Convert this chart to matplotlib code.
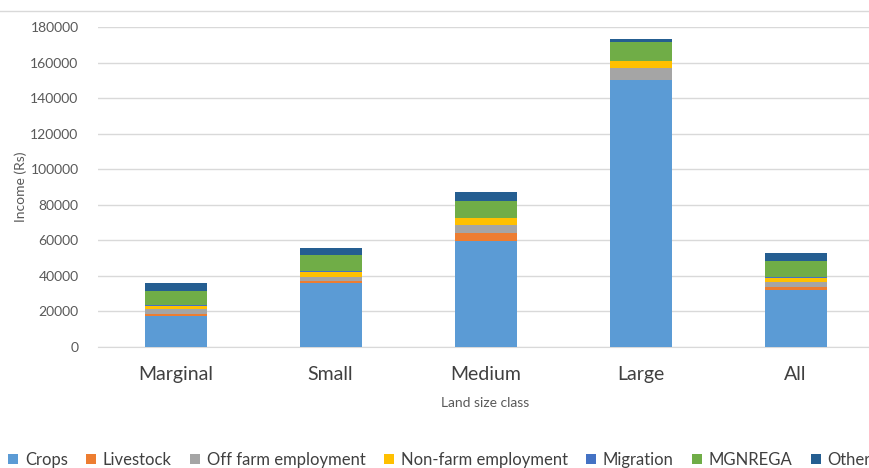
import numpy as np
import matplotlib.pyplot as plt
from matplotlib.patches import Patch
from matplotlib.lines import Line2D

# Data (income in Rs)
categories = ["Marginal", "Small", "Medium", "Large", "All"]
crops = [17400, 35800, 59400, 150000, 32200]
livestock = [1300, 1300, 4500, 100, 1400]
off_farm = [2500, 2400, 4900, 6600, 3000]
non_farm = [1900, 2800, 3600, 4100, 2400]
migration = [500, 200, 100, 100, 200]
mgnrega = [7900, 9400, 9700, 10700, 9400]
other = [4700, 3800, 5100, 1500, 4300]

series = [
    ("Crops", crops, "#5B9BD5"),
    ("Livestock", livestock, "#ED7D31"),
    ("Off farm employment", off_farm, "#A5A5A5"),
    ("Non-farm employment", non_farm, "#FFC000"),
    ("Migration", migration, "#4472C4"),
    ("MGNREGA", mgnrega, "#70AD47"),
    ("Other", other, "#255E91"),
]

plt.rcParams["font.family"] = ["Lato", "DejaVu Sans"]

fig = plt.figure(figsize=(8.69, 4.68), dpi=100)
ax = fig.add_axes([98 / 869, 1 - 347 / 468, 775 / 869, 320 / 468])

x = np.arange(len(categories))
bottom = np.zeros(len(categories))
for name, vals, color in series:
    ax.bar(x, vals, 0.4, bottom=bottom, color=color, label=name, zorder=3)
    bottom += np.array(vals)

ax.set_ylim(0, 180000)
ax.set_xlim(-0.5, 4.5)
ax.set_yticks(np.arange(0, 180001, 20000))
ax.grid(axis="y", color="#D9D9D9", linewidth=1, zorder=0)
for s in ax.spines.values():
    s.set_visible(False)
ax.spines["bottom"].set_visible(True)
ax.spines["bottom"].set_color("#D9D9D9")
ax.tick_params(axis="y", length=0, pad=14, labelsize=10, labelcolor="#595959")
ax.tick_params(axis="x", length=0, pad=14, labelsize=14, labelcolor="#404040")
ax.set_xticks(x)
ax.set_xticklabels(categories)
ax.set_xlabel("Land size class", fontsize=10, color="#595959", labelpad=10)
ax.set_ylabel("Income (Rs)", fontsize=10, color="#595959")
ax.yaxis.set_label_coords((27 - 98) / 775, 0.5)

# thin frame line at top of chart area
fig.add_artist(Line2D([0, 1], [1 - 11 / 468, 1 - 11 / 468], color="#D9D9D9",
                      linewidth=1, transform=fig.transFigure))

handles = [Patch(facecolor=c, label=n) for n, _, c in series]
fig.legend(handles=handles, loc="center left", bbox_to_anchor=(0.002, 1 - 460 / 468),
           ncol=7, frameon=False, fontsize=12, handlelength=0.6, handleheight=0.6,
           handletextpad=0.4, columnspacing=1.1, labelcolor="#404040",
           borderaxespad=0)

fig.savefig("out.png", dpi=100)
